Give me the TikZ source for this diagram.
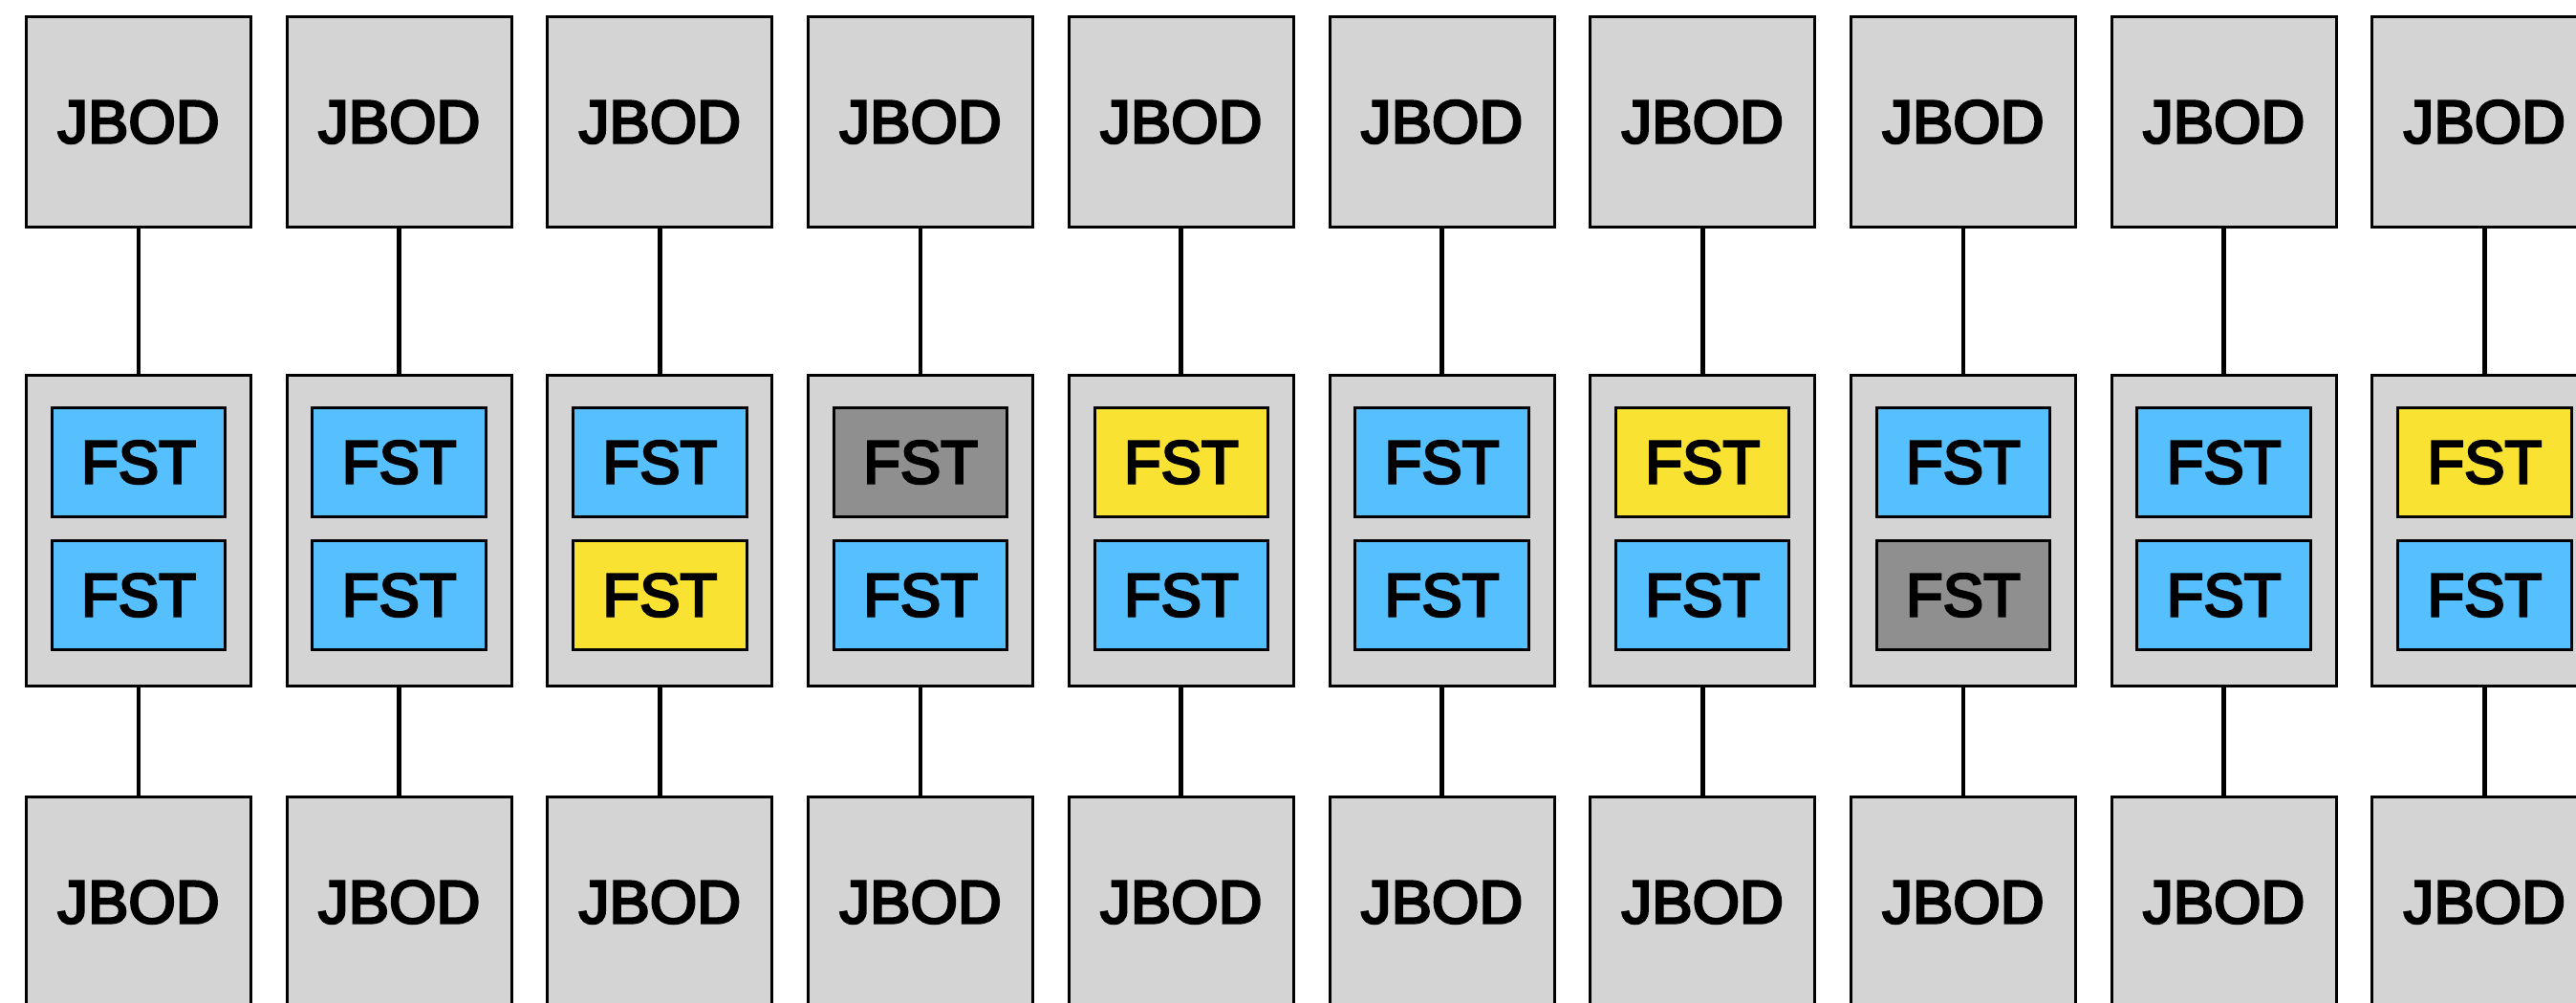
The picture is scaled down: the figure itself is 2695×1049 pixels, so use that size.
\documentclass[tikz,border=0pt]{standalone}
\usepackage{fontspec}
\setmainfont{Liberation Sans}
\newfontfamily\labelfont{Liberation Sans}[FakeBold=4]
\definecolor{boxgray}{HTML}{D4D4D4}
\definecolor{fblue}{HTML}{56BFFE}
\definecolor{fyellow}{HTML}{F9E232}
\definecolor{fdark}{HTML}{8F8F8F}
\begin{document}
\begin{tikzpicture}[x=1pt,y=-1pt,
  box/.style={draw=black, line width=3pt, fill=boxgray, inner sep=0pt, outer sep=0pt,
    minimum width=235pt, minimum height=220.5pt, font=\labelfont\fontsize{63.5}{63.5}\selectfont},
  fst/.style={draw=black, line width=3pt, inner sep=0pt, outer sep=0pt,
    minimum width=181.5pt, minimum height=114pt, font=\labelfont\fontsize{63.5}{63.5}\selectfont},
  link/.style={line width=4.7pt}]
\useasboundingbox (0,0) rectangle (2695,1049);
\clip (0,0) rectangle (2695,1049);
\foreach \i/\ca/\cb in {1/fblue/fblue, 2/fblue/fblue, 3/fblue/fyellow, 4/fdark/fblue,
  5/fyellow/fblue, 6/fblue/fblue, 7/fyellow/fblue, 8/fblue/fdark, 9/fblue/fblue, 10/fyellow/fblue} {
  \pgfmathsetmacro\cx{145+272.7*(\i-1)}
  \node[box] (jt\i) at (\cx,127.5) {JBOD};
  \node[box, minimum height=325pt] (c\i) at (\cx,555) {};
  \node[fst, fill=\ca] (fa\i) at (\cx,483.5) {FST};
  \node[fst, fill=\cb] (fb\i) at (\cx,622.5) {FST};
  \node[box] (jb\i) at (\cx,943.5) {JBOD};
  \draw[link] (jt\i.south) -- (c\i.north);
  \draw[link] (c\i.south) -- (jb\i.north);
}
\end{tikzpicture}
\end{document}
